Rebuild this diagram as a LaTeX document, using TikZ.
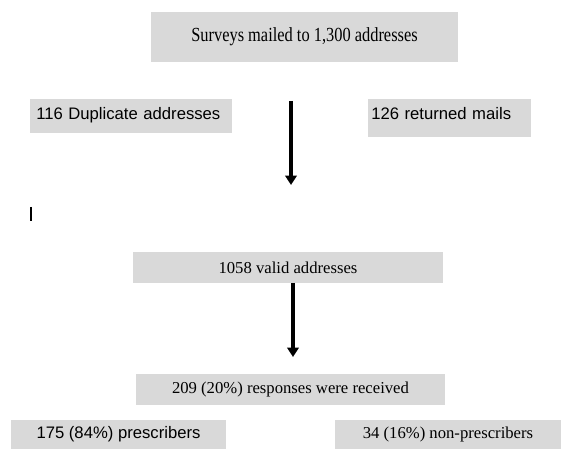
\documentclass[tikz,border=0pt]{standalone}
\usepackage{fontspec}
\setmainfont{Liberation Serif}
\newfontfamily\arialfont{Liberation Sans}
\newfontfamily\narrowserif[FakeStretch=0.82]{Liberation Serif}
\usetikzlibrary{arrows.meta}

\begin{document}
\begin{tikzpicture}[x=0.75pt,y=-0.75pt,
    greybox/.style={fill=black!15,draw=none,inner sep=0pt},
    serifbox/.style={greybox,font=\fontsize{12.5}{15}\selectfont},
    sansbox/.style={greybox,font=\arialfont\fontsize{12.5}{15}\selectfont},
    flowarrow/.style={line width=2.7pt,-{Triangle[width=8.5pt,length=7pt]}}]
  \useasboundingbox (0,0) rectangle (561,449);
  \draw
    (304.5,37) node[greybox,minimum width=230.25pt,minimum height=37.5pt,
      font=\narrowserif\fontsize{15}{18}\selectfont] (mailed) {Surveys mailed to 1,300 addresses}
    (30,99) node[sansbox,anchor=north west,inner xsep=4.5pt,text width=142.5pt,
      text height=15pt,text depth=10.5pt,align=left] (dup) {116 Duplicate addresses}
    (368,99) node[sansbox,anchor=north west,inner xsep=2.25pt,text width=117.75pt,
      text height=15pt,text depth=13.5pt,align=left] (ret) {126 returned mails}
    (288,267.5) node[serifbox,minimum width=232.5pt,minimum height=23.25pt] (valid) {1058 valid addresses}
    (290.5,389.5) node[serifbox,minimum width=231.75pt,minimum height=23.25pt] (resp) {209 (20\%) responses were received}
    (118.5,434.5) node[sansbox,minimum width=161.25pt,minimum height=21.75pt] (pres) {175 (84\%) prescribers}
    (448,434.5) node[serifbox,minimum width=169.5pt,minimum height=21.75pt] (nonpres) {34 (16\%) non-prescribers};
  % arrows and the stray mark
  \coordinate (a1start) at (291,101);
  \coordinate (a1end) at (291,185);
  \coordinate (a2start) at (293,283);
  \coordinate (a2end) at (293,357);
  \coordinate (marktop) at (31,207);
  \coordinate (markbot) at (31,221);
  \begin{scope}
    \draw[flowarrow] (a1start) -- (a1end);
    \draw[flowarrow] (a2start) -- (a2end);
    \draw[line width=1pt] (marktop) -- (markbot);
  \end{scope}
\end{tikzpicture}
\end{document}
